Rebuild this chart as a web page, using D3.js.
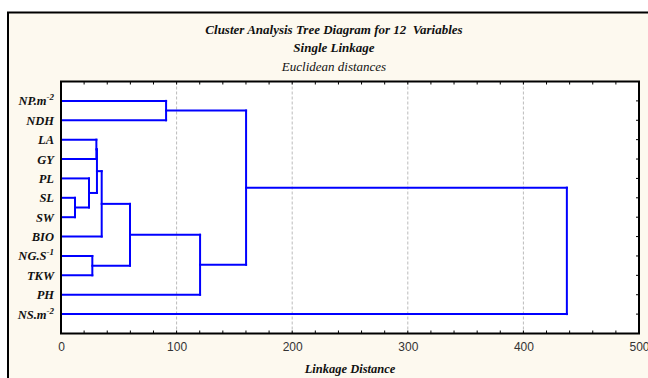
<!DOCTYPE html>
<html>
<head>
<meta charset="utf-8">
<script src="https://cdn.jsdelivr.net/npm/d3@7"></script>
<style>
html,body{margin:0;padding:0;background:#fff;}
svg{display:block;}
text{white-space:pre;}
</style>
</head>
<body>
<svg id="chart" width="648" height="378"></svg>
<script>
// ---- Data ----
const leafNames = ["NP.m", "NDH", "LA", "GY", "PL", "SL", "SW", "BIO", "NG.S", "TKW", "PH", "NS.m"];
const leafSup   = ["-2", "", "", "", "", "", "", "", "-1", "", "", "-2"];
// merges (ids 0..11 leaves, 12+ clusters in order)
const mergeLeft   = [5, 4, 8, 2, 15, 16, 17, 0, 18, 19, 21];
const mergeRight  = [6, 12, 9, 3, 13, 7, 14, 1, 10, 20, 11];
const mergeHeight = [12.1, 24.2, 27.1, 30.6, 31.1, 35.2, 59.7, 90.9, 120.3, 160.1, 437.6];
const xTicks = [0, 100, 200, 300, 400, 500];
const titleLines = ["Cluster Analysis Tree Diagram for 12  Variables", "Single Linkage", "Euclidean distances"];
const xLabel = "Linkage Distance";

// ---- Layout ----
const svg = d3.select("#chart");
const P = {left: 61, right: 639, top: 81.5, bottom: 333.5};
const x = d3.scaleLinear().domain([0, 500]).range([P.left, P.right]);
const y = d3.scaleLinear().domain([0, leafNames.length + 1]).range([P.top, P.bottom]);

// frame
svg.append("rect").attr("x", 8).attr("y", 12.5).attr("width", 700).attr("height", 400)
  .attr("fill", "#fdf9ef").attr("stroke", "#000").attr("stroke-width", 2);
// plot bg
svg.append("rect").attr("x", P.left).attr("y", P.top).attr("width", P.right - P.left).attr("height", P.bottom - P.top)
  .attr("fill", "#fff");

// grid
svg.append("g").selectAll("line").data(xTicks.filter(d => d > 0 && d < 500)).join("line")
  .attr("x1", d => x(d)).attr("x2", d => x(d)).attr("y1", P.top).attr("y2", P.bottom)
  .attr("stroke", "#bbb").attr("stroke-width", 1).attr("stroke-dasharray", "3,2");

// axes
const minor = d3.range(0, 501, 20);
const bottomAxis = d3.axisBottom(x).tickValues(xTicks).tickSize(0).tickPadding(9).tickFormat(d3.format("d"));
const gB = svg.append("g").attr("transform", `translate(0,${P.bottom})`).call(bottomAxis);
gB.select(".domain").remove();
gB.selectAll("text").attr("font-family", "Liberation Sans, Arial, sans-serif").attr("font-size", 12).attr("fill", "#333");

const tickG = svg.append("g").attr("stroke", "#000").attr("stroke-width", 1);
tickG.selectAll("line.b").data(minor).join("line").attr("class", "b")
  .attr("x1", d => x(d)).attr("x2", d => x(d)).attr("y1", P.bottom).attr("y2", P.bottom - 3);
tickG.selectAll("line.t").data(minor).join("line").attr("class", "t")
  .attr("x1", d => x(d)).attr("x2", d => x(d)).attr("y1", P.top).attr("y2", P.top + 3);
tickG.selectAll("line.r").data(leafNames.map((d, i) => i + 1)).join("line").attr("class", "r")
  .attr("x1", P.right).attr("x2", P.right - 3).attr("y1", d => y(d)).attr("y2", d => y(d));

// dendrogram
const nodeX = leafNames.map(() => 0);
const nodeY = leafNames.map((d, i) => y(i + 1));
const segs = [];
mergeHeight.forEach((h, k) => {
  const a = mergeLeft[k], b = mergeRight[k];
  const hx = x(h);
  segs.push([x(nodeX[a]), nodeY[a], hx, nodeY[a]]);
  segs.push([x(nodeX[b]), nodeY[b], hx, nodeY[b]]);
  segs.push([hx, nodeY[a], hx, nodeY[b]]);
  nodeX.push(h);
  nodeY.push((nodeY[a] + nodeY[b]) / 2);
});
svg.append("g").selectAll("line").data(segs).join("line")
  .attr("x1", d => d[0]).attr("y1", d => d[1]).attr("x2", d => d[2]).attr("y2", d => d[3])
  .attr("stroke", "#0000ff").attr("stroke-width", 2).attr("stroke-linecap", "square");

// plot border
svg.append("rect").attr("x", P.left).attr("y", P.top).attr("width", P.right - P.left).attr("height", P.bottom - P.top)
  .attr("fill", "none").attr("stroke", "#000").attr("stroke-width", 2);

// leaf labels
const serif = "Liberation Serif, Times New Roman, serif";
const lab = svg.append("g").selectAll("text").data(leafNames).join("text")
  .attr("x", 54).attr("y", (d, i) => y(i + 1) + 4.5)
  .attr("text-anchor", "end").attr("font-family", serif).attr("font-size", 12.5)
  .attr("font-weight", "bold").attr("font-style", "italic").attr("fill", "#111");
lab.append("tspan").text(d => d);
lab.append("tspan").text((d, i) => leafSup[i]).attr("font-size", 9).attr("dy", -5);

// titles
const tY = [29, 47.7, 66.7];
svg.append("g").selectAll("text").data(titleLines).join("text")
  .attr("x", 334).attr("y", (d, i) => tY[i] + 4.5)
  .attr("text-anchor", "middle").attr("font-family", serif).attr("font-size", 13)
  .attr("font-weight", (d, i) => i < 2 ? "bold" : "normal").attr("font-style", "italic").attr("fill", "#111")
  .text(d => d);

svg.append("text").attr("x", (P.left + P.right) / 2).attr("y", 372.5)
  .attr("text-anchor", "middle").attr("font-family", serif).attr("font-size", 12.5)
  .attr("font-weight", "bold").attr("font-style", "italic").attr("fill", "#111").text(xLabel);
</script>
</body>
</html>
